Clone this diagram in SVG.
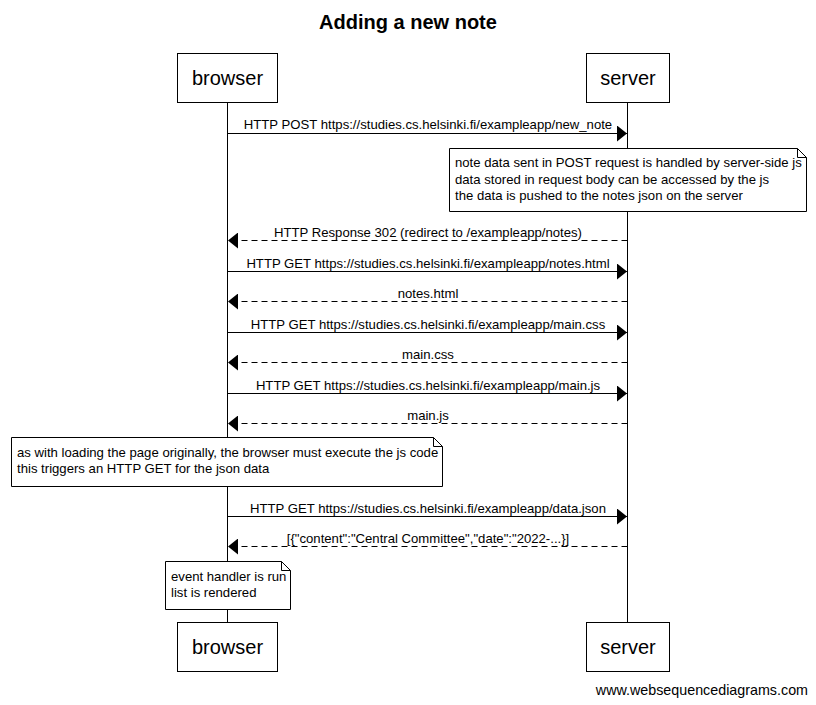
<svg xmlns="http://www.w3.org/2000/svg" width="816" height="705" viewBox="0 0 816 705">
<style>
.bg{fill:#fff}
.box{fill:#fff;stroke:#000;stroke-width:1}
.life{stroke:#000;stroke-width:1}
.pt{font-family:"Liberation Sans",Arial,sans-serif;font-size:20px;text-anchor:middle;fill:#000}
.msg{font-family:"Liberation Sans",Arial,sans-serif;font-size:13.15px;text-anchor:middle;fill:#000}
.nt{font-family:"Liberation Sans",Arial,sans-serif;font-size:13.15px;fill:#000}
.title{font-family:"Liberation Sans",Arial,sans-serif;font-size:20px;font-weight:bold;text-anchor:middle;fill:#000}
.foot{font-family:"Liberation Sans",Arial,sans-serif;font-size:14.3px;text-anchor:end;fill:#000}
.sol{stroke:#000;stroke-width:1;fill:none}
.dash{stroke:#000;stroke-width:1;fill:none;stroke-dasharray:6,4}
.note{fill:#fff;stroke:#000;stroke-width:1}
.fold{fill:none;stroke:#000;stroke-width:1}
</style>
<defs>
<marker id="ah" markerUnits="userSpaceOnUse" markerWidth="10" markerHeight="16" viewBox="0 0 10 16" refX="10" refY="8" orient="auto">
<path d="M0,0 L10,8 L0,16 Z" fill="#000"/>
</marker>
</defs>
<rect class="bg" x="0" y="0" width="816" height="705"/>
<text class="title" x="408" y="29">Adding a new note</text>

<g id="lifelines">
<line class="life" x1="227.5" y1="102" x2="227.5" y2="622"/>
<line class="life" x1="627.5" y1="102" x2="627.5" y2="622"/>
</g>

<g id="browser-top"><rect class="box" x="177.5" y="53.5" width="100" height="49"/><text class="pt" x="227.5" y="85">browser</text></g>
<g id="server-top"><rect class="box" x="586.5" y="53.5" width="83" height="49"/><text class="pt" x="628" y="85">server</text></g>

<g id="connectors">
<line class="sol" x1="227.5" y1="133.5" x2="627" y2="133.5" marker-end="url(#ah)"/>
<text class="msg" x="428" y="129">HTTP POST https://studies.cs.helsinki.fi/exampleapp/new_note</text>
<line class="dash" x1="627.5" y1="240.5" x2="228" y2="240.5" marker-end="url(#ah)"/>
<text class="msg" x="428" y="237">HTTP Response 302 (redirect to /exampleapp/notes)</text>
<line class="sol" x1="227.5" y1="271.5" x2="627" y2="271.5" marker-end="url(#ah)"/>
<text class="msg" x="428" y="268">HTTP GET https://studies.cs.helsinki.fi/exampleapp/notes.html</text>
<line class="dash" x1="627.5" y1="301.5" x2="228" y2="301.5" marker-end="url(#ah)"/>
<text class="msg" x="428" y="298">notes.html</text>
<line class="sol" x1="227.5" y1="332.5" x2="627" y2="332.5" marker-end="url(#ah)"/>
<text class="msg" x="428" y="329">HTTP GET https://studies.cs.helsinki.fi/exampleapp/main.css</text>
<line class="dash" x1="627.5" y1="362.5" x2="228" y2="362.5" marker-end="url(#ah)"/>
<text class="msg" x="428" y="359">main.css</text>
<line class="sol" x1="227.5" y1="393.5" x2="627" y2="393.5" marker-end="url(#ah)"/>
<text class="msg" x="428" y="390">HTTP GET https://studies.cs.helsinki.fi/exampleapp/main.js</text>
<line class="dash" x1="627.5" y1="423.5" x2="228" y2="423.5" marker-end="url(#ah)"/>
<text class="msg" x="428" y="420">main.js</text>
<line class="sol" x1="227.5" y1="516.5" x2="627" y2="516.5" marker-end="url(#ah)"/>
<text class="msg" x="428" y="513">HTTP GET https://studies.cs.helsinki.fi/exampleapp/data.json</text>
<line class="dash" x1="627.5" y1="546.5" x2="228" y2="546.5" marker-end="url(#ah)"/>
<text class="msg" x="428" y="543">[{"content":"Central Committee","date":"2022-...}]</text>
</g>

<g id="note1">
<path class="note" d="M449.5,148.5 H797.5 L806.5,157.5 V211.5 H449.5 Z"/>
<path class="fold" d="M797.5,148.5 V157.5 H806.5"/>
<text class="nt" x="455" y="167">note data sent in POST request is handled by server-side js</text>
<text class="nt" x="455" y="184">data stored in request body can be accessed by the js</text>
<text class="nt" x="455" y="200">the data is pushed to the notes json on the server</text>
</g>

<g id="note2">
<path class="note" d="M11.5,437.5 H433.5 L442.5,446.5 V486.5 H11.5 Z"/>
<path class="fold" d="M433.5,437.5 V446.5 H442.5"/>
<text class="nt" x="17" y="457">as with loading the page originally, the browser must execute the js code</text>
<text class="nt" x="17" y="473">this triggers an HTTP GET for the json data</text>
</g>

<g id="note3">
<path class="note" d="M165.5,561.5 H281.5 L290.5,570.5 V609.5 H165.5 Z"/>
<path class="fold" d="M281.5,561.5 V570.5 H290.5"/>
<text class="nt" x="171" y="581">event handler is run</text>
<text class="nt" x="171" y="597">list is rendered</text>
</g>

<g id="browser-bottom"><rect class="box" x="177.5" y="622.5" width="100" height="49"/><text class="pt" x="227.5" y="654">browser</text></g>
<g id="server-bottom"><rect class="box" x="586.5" y="622.5" width="83" height="49"/><text class="pt" x="628" y="654">server</text></g>

<text class="foot" x="808" y="695">www.websequencediagrams.com</text>
</svg>
